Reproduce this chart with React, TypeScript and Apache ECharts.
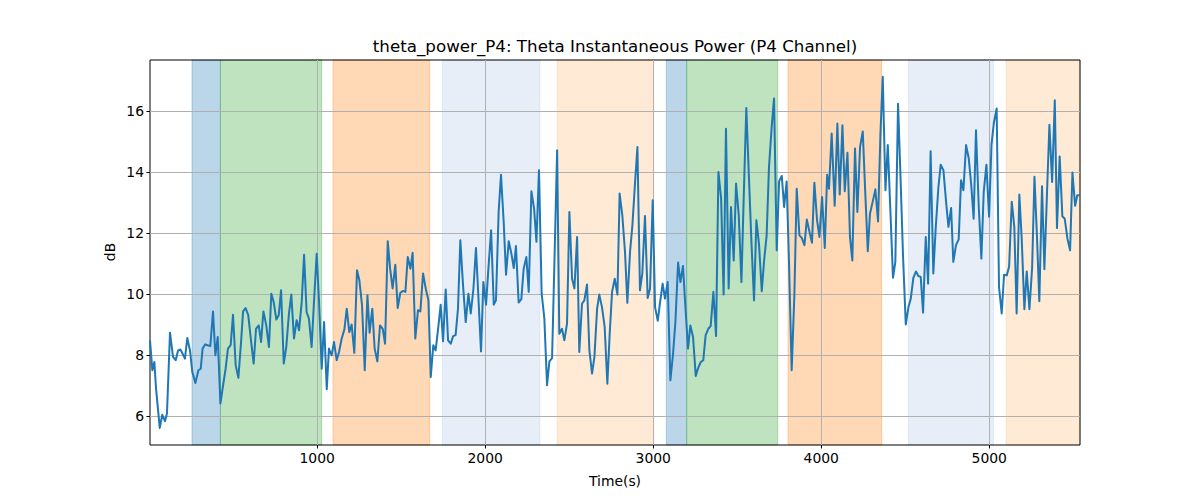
import React, { useEffect, useRef } from "react";
import * as echarts from "echarts";

// [time (s), power (dB)]
const samples: [number, number][] = [
  [5, 8.49], [19, 7.51], [31, 7.78], [41, 6.91], [63, 5.62], [78, 6.05], [94, 5.84], [106, 6.09], [124, 8.74], [142, 7.95],
  [158, 7.84], [172, 8.16], [186, 8.19], [199, 8.05], [213, 7.89], [227, 8.57], [243, 8.16], [257, 7.45], [275, 7.09], [293, 7.51],
  [307, 7.56], [318, 8.22], [334, 8.36], [348, 8.33], [364, 8.30], [380, 9.44], [394, 8.0], [408, 8.6], [424, 6.42], [437, 6.91],
  [455, 7.56], [469, 8.22], [485, 8.33], [499, 9.33], [515, 7.67], [531, 7.26], [547, 8.44], [559, 9.44], [574, 9.55], [590, 9.31],
  [606, 8.49], [622, 7.73], [636, 8.87], [652, 8.98], [666, 8.44], [680, 9.44], [697, 8.98], [713, 8.27], [727, 10.02], [741, 9.75],
  [757, 9.17], [771, 9.31], [785, 10.13], [801, 7.73], [816, 8.27], [832, 9.37], [846, 9.99], [862, 8.55], [878, 9.15], [892, 8.82],
  [908, 9.75], [922, 11.3],
  [937, 9.42], [951, 9.2], [967, 8.27], [981, 9.75], [997, 11.33], [1011, 9.75], [1027, 7.56], [1041, 9.09], [1057, 6.89], [1070, 8.22],
  [1086, 8.0], [1100, 8.44], [1116, 7.84], [1130, 8.11], [1146, 8.55], [1162, 8.85], [1176, 9.53], [1191, 8.76], [1205, 9.01], [1221, 8.08],
  [1237, 10.79], [1251, 10.46], [1267, 9.64], [1283, 7.51], [1299, 9.97], [1312, 8.74], [1328, 9.53], [1342, 8.22], [1358, 7.8], [1374, 8.98],
  [1390, 8.87], [1404, 8.38], [1420, 11.74], [1434, 10.84], [1449, 10.19], [1465, 10.97], [1479, 9.55], [1495, 10.05], [1511, 10.11], [1525, 10.08],
  [1539, 11.22], [1555, 10.84], [1568, 11.36], [1584, 8.55], [1600, 9.48], [1614, 9.44], [1630, 10.68], [1646, 10.19], [1662, 9.8], [1676, 7.29],
  [1691, 8.33], [1705, 8.16], [1721, 8.93], [1735, 9.66], [1749, 8.46], [1765, 10.16], [1779, 8.49], [1795, 8.38], [1809, 8.63], [1824, 8.66],
  [1838, 9.53],
  [1852, 11.77], [1868, 10.3], [1884, 9.09], [1900, 10.02], [1914, 9.37], [1930, 10.19], [1945, 11.52], [1959, 9.97], [1975, 8.13], [1989, 10.4],
  [2005, 9.66], [2019, 10.84], [2035, 12.1], [2051, 9.66], [2064, 9.8], [2080, 12.7], [2094, 13.92], [2110, 12.37], [2124, 10.64], [2140, 11.74],
  [2156, 11.33], [2170, 10.86], [2183, 11.58], [2199, 9.73], [2215, 9.84], [2229, 10.84], [2245, 11.22], [2259, 10.08], [2275, 13.38], [2291, 12.81],
  [2305, 11.72], [2320, 14.07], [2336, 10.02], [2352, 9.2], [2368, 7.02], [2382, 7.8], [2398, 7.91], [2412, 11.06], [2428, 14.72], [2441, 8.71],
  [2457, 8.87], [2471, 8.49], [2487, 9.04], [2501, 12.7], [2517, 10.51], [2531, 10.19], [2547, 11.88], [2560, 8.11], [2576, 9.69], [2590, 9.8],
  [2606, 10.32], [2620, 8.16], [2636, 7.4], [2650, 7.95], [2666, 9.53], [2679, 9.99], [2695, 9.58], [2711, 8.93], [2727, 7.07], [2741, 8.71],
  [2755, 10.08],
  [2771, 10.51], [2787, 9.99], [2800, 13.3], [2816, 12.59], [2832, 11.39], [2846, 9.72], [2862, 11.39], [2876, 12.26], [2892, 13.68], [2906, 14.83],
  [2921, 10.13], [2935, 10.68], [2951, 12.57], [2967, 9.88], [2981, 10.19], [2997, 13.08], [3011, 9.58], [3027, 9.13], [3041, 9.75], [3056, 10.35],
  [3070, 9.86], [3086, 10.4], [3102, 7.18], [3118, 8.05], [3132, 9.09], [3148, 11.04], [3162, 10.4], [3177, 10.93], [3191, 9.64], [3207, 8.22],
  [3221, 8.98], [3237, 8.6], [3253, 7.32], [3267, 7.58], [3283, 7.78], [3298, 7.84], [3312, 8.66], [3328, 8.87], [3342, 8.96], [3358, 10.08],
  [3374, 8.63], [3388, 14.01], [3404, 13.14], [3419, 9.99], [3433, 15.43], [3449, 10.19], [3463, 12.86], [3479, 11.11], [3493, 13.63], [3509, 12.59],
  [3525, 10.4], [3539, 13.25], [3554, 16.11], [3568, 14.07], [3584, 11.77], [3600, 9.8], [3614, 12.43], [3630, 11.61], [3646, 10.1], [3660, 11.11],
  [3675, 11.93], [3689, 14.17],
  [3705, 15.49], [3719, 16.42], [3735, 11.44], [3749, 13.7], [3765, 13.88], [3779, 12.86], [3794, 13.7], [3808, 11.06], [3824, 7.51], [3840, 9.97],
  [3854, 13.46], [3870, 11.93], [3884, 11.85], [3900, 11.61], [3914, 12.45], [3929, 12.07], [3945, 11.69], [3959, 13.66], [3975, 12.43], [3989, 11.88],
  [4005, 13.19], [4021, 11.52], [4035, 13.92], [4046, 13.46], [4062, 15.27], [4080, 12.9], [4096, 15.6], [4110, 13.27], [4126, 15.54], [4140, 13.38],
  [4156, 14.64], [4171, 11.88], [4185, 11.11], [4201, 14.78], [4215, 12.7], [4231, 14.83], [4247, 15.34], [4261, 13.46], [4277, 11.41], [4290, 12.64],
  [4306, 13.03], [4322, 13.44], [4338, 12.39], [4352, 15.21], [4366, 17.13], [4382, 13.41], [4396, 14.89], [4411, 12.81], [4427, 10.54], [4441, 11.06],
  [4457, 16.25], [4473, 13.63], [4487, 11.22], [4503, 9.01], [4519, 9.58], [4533, 9.86], [4548, 10.54], [4564, 10.75], [4578, 10.6], [4592, 10.57],
  [4606, 9.4],
  [4622, 11.88], [4636, 10.35], [4651, 14.69], [4667, 10.68], [4681, 12.15], [4697, 13.49], [4711, 14.25], [4727, 14.07], [4743, 13.03], [4757, 12.21],
  [4773, 12.83], [4786, 11.06], [4802, 11.61], [4818, 11.8], [4832, 13.74], [4846, 13.41], [4862, 14.89], [4878, 14.45], [4892, 13.63], [4907, 12.48],
  [4921, 15.38], [4937, 12.92], [4953, 11.17], [4967, 13.36], [4983, 14.25], [4999, 12.54], [5013, 14.89], [5028, 15.65], [5044, 16.09], [5058, 10.24],
  [5074, 9.37], [5088, 10.64], [5104, 10.62], [5118, 10.9], [5134, 13.03], [5149, 12.21], [5163, 9.37], [5179, 13.27], [5193, 11.83], [5209, 9.51],
  [5223, 10.75], [5239, 9.51], [5255, 10.86], [5269, 13.85], [5284, 11.88], [5298, 9.77], [5314, 13.54], [5328, 10.82], [5344, 13.38], [5358, 15.56],
  [5374, 13.68], [5390, 16.36], [5403, 12.17], [5419, 14.52], [5435, 12.56], [5449, 12.48], [5465, 11.83], [5481, 11.44], [5495, 13.99], [5511, 12.9],
  [5524, 13.25], [5540, 13.25],
];

const spanStarts = [255, 424, 1094, 1745, 2428, 3078, 3199, 3802, 4519, 5100];
const spanEnds = [424, 1027, 1670, 2326, 3003, 3199, 3741, 4360, 5025, 5540];
const spanKinds = ["blue", "green", "orange", "lightblue", "lightorange", "blue", "green", "orange", "lightblue", "lightorange"];

const xTicks = [1000, 2000, 3000, 4000, 5000];
const yTicks = [6, 8, 10, 12, 14, 16];

const TITLE = "theta_power_P4: Theta Instantaneous Power (P4 Channel)";
const X_NAME = "Time(s)";
const Y_NAME = "dB";

const KIND_COLORS: Record<string, string> = {
  blue: "rgba(31,119,180,0.3)",
  green: "rgba(44,160,44,0.3)",
  orange: "rgba(255,127,14,0.3)",
  lightblue: "rgba(174,199,232,0.3)",
  lightorange: "rgba(255,187,120,0.3)",
};

const FONT = '"DejaVu Sans", sans-serif';

export default function App() {
  const ref = useRef<HTMLDivElement>(null);
  useEffect(() => {
    if (!ref.current) return;
    const chart = echarts.init(ref.current, undefined, { renderer: "svg" });
    const areas = spanStarts.map((s, i) => {
      const c = KIND_COLORS[spanKinds[i]];
      return [
        { xAxis: s, itemStyle: { color: c, borderColor: c, borderWidth: 1 } },
        { xAxis: spanEnds[i] },
      ];
    });
    const axisCommon = {
      z: 2,
      axisLine: { show: false },
      axisTick: { show: true, inside: false, length: 3.5, lineStyle: { color: "#000", width: 1 } },
      splitLine: { show: true, lineStyle: { color: "#b0b0b0", width: 1 } },
    };
    const plain = (v: number) => String(v);
    chart.setOption({
      animation: false,
      grid: {
        left: 150, right: 120, top: 60, bottom: 55,
        show: true, borderColor: "#000", borderWidth: 1, backgroundColor: "transparent", z: 2,
      },
      xAxis: {
        type: "value", min: 5, max: 5540,
        ...axisCommon,
        axisTick: { ...axisCommon.axisTick, customValues: xTicks },
        axisLabel: { customValues: xTicks, formatter: plain, margin: 6, fontSize: 13.9, color: "#000", fontFamily: FONT },
      },
      yAxis: {
        type: "value", min: 5.06, max: 17.68,
        ...axisCommon,
        axisTick: { ...axisCommon.axisTick, customValues: yTicks },
        axisLabel: { customValues: yTicks, formatter: plain, margin: 6, fontSize: 13.9, color: "#000", fontFamily: FONT },
      },
      graphic: [
        { type: "text", x: 615, y: 46, style: { text: TITLE, font: `16.7px ${FONT}`, fill: "#000", textAlign: "center", textVerticalAlign: "middle" } },
        { type: "text", x: 615, y: 481, style: { text: X_NAME, font: `13.9px ${FONT}`, fill: "#000", textAlign: "center", textVerticalAlign: "middle" } },
        { type: "text", x: 110, y: 252, rotation: Math.PI / 2, style: { text: Y_NAME, font: `13.9px ${FONT}`, fill: "#000", textAlign: "center", textVerticalAlign: "middle" } },
      ],
      series: [
        {
          type: "line",
          data: samples,
          z: 3,
          symbol: "none",
          lineStyle: { color: "#1f77b4", width: 2, join: "round" },
          silent: true,
          markArea: { silent: true, z: 1, data: areas },
        },
      ],
    });
    return () => chart.dispose();
  }, []);
  return <div ref={ref} style={{ position: "absolute", left: 0, top: 0, width: 1200, height: 500 }} />;
}
